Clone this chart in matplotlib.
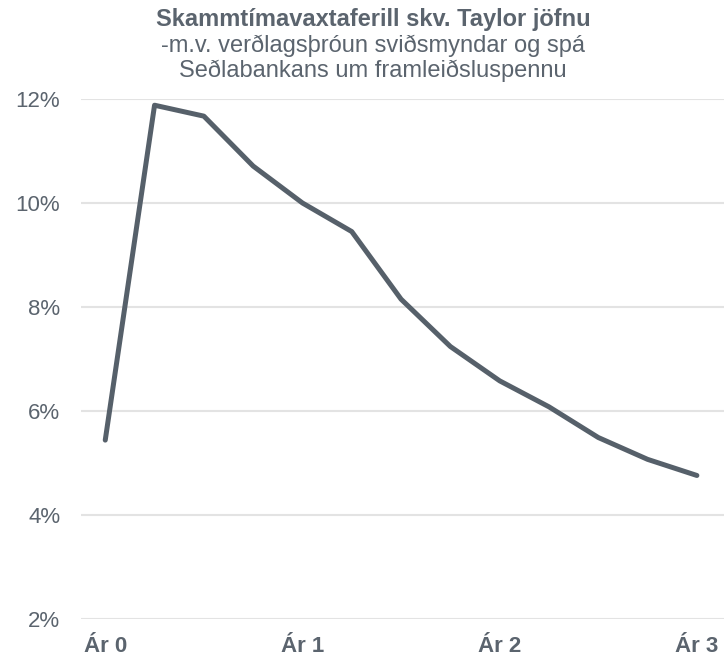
import numpy as np
import matplotlib.pyplot as plt

plt.rcParams["font.family"] = ["Liberation Sans", "DejaVu Sans"]

# quarterly path, Ár 0 .. Ár 3
quarters = np.arange(13)
rate = [5.44, 11.88, 11.67, 10.71, 10.0, 9.45, 8.15, 7.24, 6.58, 6.08, 5.49, 5.07, 4.76]
tick_pos = [0, 4, 8, 12]
tick_labels = ["Ár 0", "Ár 1", "Ár 2", "Ár 3"]
y_ticks = [2, 4, 6, 8, 10, 12]

TEXT = "#5b646e"
LINE = "#56606a"

fig = plt.figure(figsize=(7.24, 6.59), dpi=100)
ax = fig.add_axes([0.112, 0.0607, 0.888, 0.7891])

ax.plot(quarters, rate, color=LINE, lw=3.6, solid_capstyle="round",
        solid_joinstyle="round", clip_on=False, zorder=3)

ax.set_xlim(-0.49, 12.55)
ax.set_ylim(2, 12)
ax.set_yticks(y_ticks)
ax.set_yticklabels([f"{v}%" for v in y_ticks])
ax.set_xticks(tick_pos)
ax.set_xticklabels(tick_labels, fontweight="bold")
ax.tick_params(axis="y", length=0, pad=15, labelsize=16, labelcolor=TEXT)
ax.tick_params(axis="x", length=0, pad=12, labelsize=16, labelcolor=TEXT)
ax.grid(axis="y", color="#e3e3e3", lw=1.5)
ax.set_axisbelow(True)
for s in ax.spines.values():
    s.set_visible(False)

fig.text(0.515, 0.971, "Skammtímavaxtaferill skv. Taylor jöfnu", ha="center",
         va="center", fontsize=17, fontweight="bold", color=TEXT)
fig.text(0.515, 0.931, "-m.v. verðlagsþróun sviðsmyndar og spá", ha="center",
         va="center", fontsize=17, color=TEXT)
fig.text(0.515, 0.892, "Seðlabankans um framleiðsluspennu", ha="center",
         va="center", fontsize=17, color=TEXT)

fig.savefig("out.png", dpi=100)
